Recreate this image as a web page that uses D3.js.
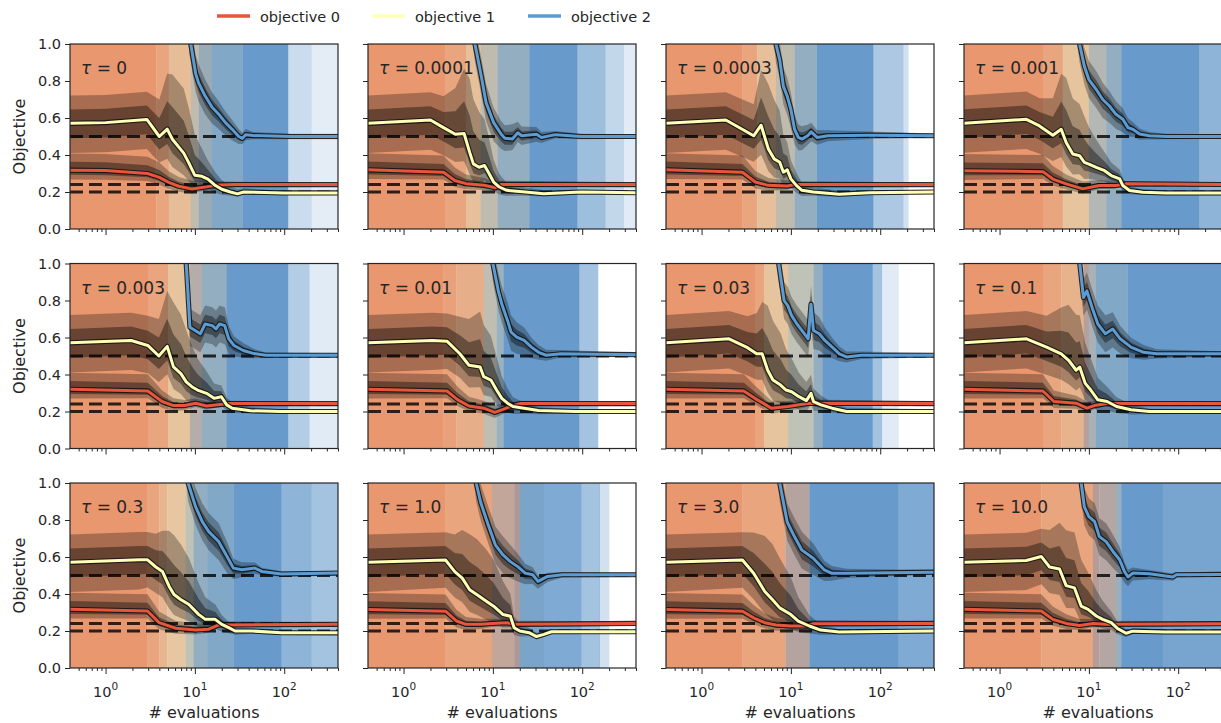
<!DOCTYPE html>
<html>
<head>
<meta charset="utf-8">
<script src="https://cdn.jsdelivr.net/npm/d3@7"></script>
<style>
  body { margin: 0; background: #fff; }
  text { font-family: "DejaVu Sans", sans-serif; fill: #262626; }
</style>
</head>
<body>
<svg id="chart" width="1221" height="723"></svg>
<script>
// tau of each panel (row by row)
const taus = ["0", "0.0001", "0.0003", "0.001", "0.003", "0.01", "0.03", "0.1", "0.3", "1.0", "3.0", "10.0"];
const objectives = ["objective 0", "objective 1", "objective 2"];
const targets = [0.5, 0.24, 0.2];
const yTicks = [0, 0.2, 0.4, 0.6, 0.8, 1.0];
const xMajor = [1, 10, 100];

// background: [x from, share obj0, share obj1, share obj2]  (share sum = coverage)
const bgBands = [
  [[0.4,1,0,0],[3.7,.8,.2,0],[5.1,.45,.55,0],[9,.2,.5,.3],[11,.15,.25,.6],[15.5,0,.2,.8],[34,0,0,1],[110,0,0,.35],[200,0,0,.18]],
  [[0.4,1,0,0],[2.95,.8,.2,0],[5,.4,.6,0],[7.3,.2,.5,.3],[11.3,.05,.3,.65],[25.5,0,0,1],[88,0,0,.65],[180,0,0,.4],[290,0,0,.2]],
  [[0.4,1,0,0],[2.87,.8,.2,0],[4.2,.4,.6,0],[6.8,.2,.5,.3],[11,.05,.3,.65],[19.6,0,0,1],[83,0,0,.55],[180,0,0,.3],[206,0,0,0]],
  [[0.4,1,0,0],[3.06,.8,.2,0],[5.1,.35,.65,0],[10,.15,.45,.4],[15.6,.05,.3,.65],[23,0,0,1],[170,0,0,.75]],
  [[0.4,1,0,0],[2.97,.8,.2,0],[5,.35,.65,0],[8.8,.3,.3,.4],[12,.05,.3,.65],[22.7,0,0,1],[110,0,0,.5],[190,0,0,.2]],
  [[0.4,1,0,0],[2.8,.85,.15,0],[3.9,.65,.35,0],[7.9,.15,.55,.3],[11,.05,.35,.6],[13.2,0,0,1],[92,0,0,.6],[150,0,0,0]],
  [[0.4,1,0,0],[3.96,.8,.2,0],[5,.35,.65,0],[9.3,.1,.6,.3],[18,.05,.3,.65],[22.7,0,0,1],[82,0,0,.6],[104,0,0,.2],[160,0,0,0]],
  [[0.4,1,0,0],[3.06,.8,.2,0],[4.9,.6,.4,0],[8.7,.5,.1,.4],[10,.15,.35,.5],[12,0,.2,.8],[27,0,0,1]],
  [[0.4,1,0,0],[2.95,.8,.2,0],[4,.55,.45,0],[4.9,.3,.7,0],[7.9,.1,.6,.3],[9.7,.05,.3,.65],[13.7,0,.2,.8],[27,0,0,1],[93,0,0,.75],[200,0,0,.6]],
  [[0.4,1,0,0],[2.95,.8,.2,0],[9.75,.5,.2,.3],[17.3,.55,0,.45],[20,0,.15,.85],[37,0,0,.85],[97,0,0,.6],[157,0,0,.3],[200,0,0,0]],
  [[0.4,1,0,0],[2.87,.8,.2,0],[8.7,.45,.15,.4],[16.1,0,0,1],[160,0,0,.85]],
  [[0.4,1,0,0],[2.93,.8,.2,0],[11.1,.55,.05,.4],[13.1,.4,.2,.4],[20,.1,.3,.6],[23,0,0,1],[67,0,0,.9]]
];

// curves: [evaluations, median, spread below, spread above]
const obj0 = [
  [[0.4,.318,.05,.09],[1,.316,.05,.09],[2.95,.30,.04,.09],[4,.279,.04,.08],[5.1,.252,.035,.06],[6.6,.231,.03,.05],[9.3,.216,.025,.045],[11,.222,.02,.035],[14,.229,.02,.03],[18.5,.238,.015,.02],[28,.24,.012,.015],[400,.24,.012,.012]],
  [[0.4,.32,.05,.09],[2.8,.307,.04,.09],[3.75,.262,.035,.07],[5,.245,.03,.05],[8,.236,.025,.04],[10.7,.223,.02,.03],[12.4,.241,.015,.02],[400,.24,.012,.012]],
  [[0.4,.32,.05,.09],[2.87,.307,.04,.09],[4,.254,.035,.06],[5.6,.236,.03,.04],[9.1,.232,.02,.03],[11,.24,.015,.02],[400,.24,.012,.012]],
  [[0.4,.315,.05,.09],[3.06,.31,.04,.09],[3.95,.27,.035,.07],[5.57,.244,.03,.05],[8.54,.217,.025,.04],[13.1,.235,.02,.03],[20,.235,.015,.02],[26,.244,.012,.015],[400,.24,.012,.012]],
  [[0.4,.32,.05,.09],[2.97,.311,.04,.09],[4.3,.254,.035,.06],[5.76,.232,.03,.04],[7.66,.232,.025,.03],[10.2,.245,.02,.025],[13.5,.23,.02,.025],[17.9,.236,.015,.02],[23.9,.243,.012,.015],[400,.243,.012,.012]],
  [[0.4,.32,.05,.09],[3.06,.311,.04,.09],[4.06,.263,.035,.07],[5.4,.23,.03,.05],[7.9,.218,.03,.04],[10.5,.195,.03,.04],[12.6,.209,.025,.03],[16.8,.232,.02,.02],[20.4,.243,.012,.015],[400,.243,.012,.012]],
  [[0.4,.32,.05,.09],[2.97,.311,.04,.09],[3.96,.271,.035,.07],[5.24,.236,.03,.05],[6.05,.218,.03,.04],[9.26,.227,.025,.03],[13.5,.239,.02,.025],[16.4,.245,.015,.02],[400,.243,.012,.012]],
  [[0.4,.32,.05,.09],[3.06,.311,.04,.09],[4.06,.254,.035,.06],[7.2,.245,.03,.04],[9.5,.218,.025,.035],[11.5,.232,.02,.025],[16,.243,.012,.015],[400,.243,.012,.012]],
  [[0.4,.317,.05,.09],[2.95,.308,.04,.09],[3.98,.245,.035,.06],[6.1,.215,.03,.04],[10.2,.206,.025,.035],[14.3,.21,.02,.03],[18.5,.233,.015,.02],[400,.236,.012,.012]],
  [[0.4,.316,.05,.09],[2.95,.307,.04,.09],[3.93,.254,.035,.06],[5,.236,.03,.04],[7.33,.236,.025,.03],[9.75,.241,.02,.025],[14.3,.245,.02,.02],[17.3,.236,.015,.02],[400,.241,.012,.012]],
  [[0.4,.316,.05,.09],[2.87,.307,.04,.09],[3.83,.271,.035,.07],[5.1,.245,.03,.05],[6.8,.232,.03,.04],[10,.227,.025,.03],[14.7,.227,.02,.025],[17.8,.239,.015,.02],[400,.241,.012,.012]],
  [[0.4,.317,.05,.09],[2.93,.308,.04,.09],[3.95,.263,.035,.07],[5.57,.241,.03,.05],[7.86,.23,.025,.035],[11.1,.24,.02,.025],[15.6,.236,.015,.02],[400,.24,.012,.012]]
];

const obj1 = [
  [[0.4,.571,.16,.15],[1,.575,.16,.15],[2.9,.592,.16,.15],[4,.50,.14,.2],[4.9,.54,.16,.3],[5.6,.485,.15,.35],[7.5,.41,.12,.35],[8.5,.36,.1,.3],[10,.29,.07,.22],[12,.285,.06,.15],[14,.27,.05,.1],[17,.235,.04,.07],[20,.215,.03,.05],[25,.2,.02,.03],[30,.19,.015,.025],[35,.2,.015,.02],[100,.195,.012,.012],[400,.195,.012,.012]],
  [[0.4,.571,.16,.15],[2,.589,.16,.15],[2.8,.548,.15,.17],[3.8,.512,.15,.25],[4.76,.516,.15,.35],[5.5,.414,.12,.4],[6.05,.352,.1,.35],[7,.334,.09,.3],[8.06,.343,.08,.25],[8.9,.307,.07,.2],[10.2,.254,.05,.12],[11.8,.227,.04,.07],[14.3,.209,.03,.04],[23,.2,.02,.025],[37,.191,.015,.02],[97,.2,.012,.012],[400,.196,.012,.012]],
  [[0.4,.571,.16,.15],[1.87,.589,.16,.15],[3.83,.504,.14,.17],[4.64,.561,.16,.3],[5.6,.432,.12,.35],[6.5,.379,.1,.32],[7.5,.361,.09,.28],[8.25,.307,.07,.2],[9.1,.32,.07,.15],[10,.271,.05,.1],[11.5,.236,.04,.07],[13.3,.209,.03,.04],[17.8,.2,.02,.025],[34.7,.188,.015,.02],[75,.196,.012,.015],[400,.2,.012,.012]],
  [[0.4,.572,.16,.15],[2,.593,.16,.15],[2.8,.557,.15,.15],[3.95,.507,.14,.2],[4.9,.539,.15,.3],[5.57,.468,.13,.35],[6.6,.405,.11,.3],[7.86,.396,.1,.28],[8.9,.36,.09,.25],[10,.351,.08,.2],[12.1,.333,.07,.15],[15,.315,.06,.1],[17.8,.289,.05,.07],[22.1,.271,.04,.05],[24,.235,.03,.04],[28.5,.208,.02,.025],[40,.199,.015,.015],[73,.195,.012,.012],[400,.195,.012,.012]],
  [[0.4,.571,.16,.15],[1.94,.584,.16,.15],[2.97,.557,.15,.16],[3.95,.50,.14,.2],[4.9,.552,.15,.3],[5.76,.441,.12,.35],[6.97,.405,.11,.32],[8,.36,.1,.28],[9.25,.334,.09,.22],[10.7,.316,.08,.17],[13.5,.298,.07,.12],[16.4,.271,.05,.08],[19.8,.28,.05,.06],[22.7,.236,.035,.04],[26.2,.218,.025,.03],[42,.204,.015,.02],[90,.2,.012,.012],[400,.2,.012,.012]],
  [[0.4,.571,.16,.15],[2.1,.584,.16,.15],[3.06,.58,.15,.15],[4.27,.512,.13,.2],[5.4,.45,.12,.25],[7.2,.441,.11,.3],[7.9,.388,.1,.28],[9.5,.37,.09,.24],[11,.316,.08,.18],[12.6,.271,.06,.12],[14.6,.245,.05,.08],[16.8,.227,.04,.05],[22.4,.218,.03,.03],[32.5,.205,.02,.02],[84,.2,.012,.012],[400,.2,.012,.012]],
  [[0.4,.571,.16,.15],[2.03,.593,.16,.15],[3.27,.545,.15,.17],[4.14,.512,.14,.22],[4.77,.512,.14,.28],[5.5,.423,.12,.35],[6.3,.37,.11,.32],[7.67,.343,.1,.28],[8.84,.316,.09,.22],[10.2,.307,.08,.18],[12.3,.28,.07,.13],[14.9,.259,.06,.1],[16.8,.298,.06,.1],[17.9,.254,.05,.07],[21.7,.236,.035,.05],[28.9,.218,.025,.03],[42,.2,.015,.02],[400,.2,.012,.012]],
  [[0.4,.571,.16,.15],[2,.593,.16,.15],[3.36,.548,.15,.17],[4.9,.512,.14,.25],[5.93,.477,.13,.3],[7.2,.423,.11,.3],[7.9,.44,.11,.28],[9.1,.352,.09,.22],[10.5,.316,.08,.17],[12.6,.263,.06,.12],[16,.254,.05,.08],[20.4,.227,.035,.05],[29.6,.209,.025,.03],[47.6,.2,.015,.015],[400,.2,.012,.012]],
  [[0.4,.571,.16,.15],[2.39,.585,.16,.15],[2.95,.585,.15,.15],[3.66,.546,.14,.18],[4.33,.522,.14,.22],[5.14,.442,.12,.3],[5.84,.397,.11,.32],[6.93,.37,.1,.3],[8.58,.343,.09,.25],[11,.29,.07,.17],[13.1,.263,.06,.12],[16.9,.263,.05,.08],[20,.236,.04,.05],[23.9,.218,.03,.03],[28.2,.2,.02,.02],[43.3,.2,.015,.015],[93,.191,.012,.012],[400,.19,.012,.012]],
  [[0.4,.571,.16,.15],[2.95,.584,.15,.15],[3.74,.521,.14,.2],[4.54,.486,.13,.26],[5.5,.423,.12,.3],[6.65,.396,.11,.3],[8.44,.361,.1,.28],[10.2,.334,.09,.25],[13,.289,.07,.18],[15.7,.28,.06,.12],[17.3,.218,.04,.06],[20,.2,.03,.04],[25.4,.191,.02,.025],[30.8,.17,.015,.02],[37.3,.182,.015,.015],[45,.196,.012,.012],[400,.196,.012,.012]],
  [[0.4,.571,.16,.15],[2.87,.584,.15,.15],[3.83,.512,.14,.22],[5.1,.414,.12,.3],[6.2,.37,.11,.3],[7.5,.325,.1,.27],[10,.289,.08,.2],[12.1,.254,.06,.13],[16.1,.227,.04,.06],[21.5,.205,.025,.03],[34.7,.195,.015,.015],[400,.2,.012,.012]],
  [[0.4,.571,.16,.15],[1.99,.581,.16,.15],[2.93,.603,.15,.15],[3.63,.546,.14,.2],[4.69,.535,.14,.25],[5.57,.445,.12,.3],[6.9,.433,.11,.3],[8.2,.335,.09,.25],[9.8,.317,.08,.2],[12.1,.281,.06,.14],[14.3,.263,.05,.1],[17.8,.245,.04,.06],[21,.213,.03,.035],[26.1,.188,.02,.02],[31,.199,.015,.015],[73,.195,.012,.012],[400,.195,.012,.012]]
];

const obj2 = [
  [[8.6,1.05,.1,.1],[9,1.0,.1,.1],[10.2,.84,.1,.1],[11,.79,.1,.1],[13,.72,.1,.09],[15.5,.66,.09,.08],[18.5,.62,.08,.07],[22,.575,.07,.06],[26,.54,.06,.05],[31,.5,.04,.04],[34,.49,.03,.03],[37,.51,.03,.03],[45,.505,.02,.02],[120,.5,.015,.015],[400,.5,.015,.015]],
  [[6,1.08,.1,.1],[6.3,1.0,.1,.1],[7.3,.843,.1,.1],[8.4,.682,.1,.1],[10.2,.575,.1,.08],[12.4,.512,.08,.07],[13.6,.491,.07,.07],[16.5,.486,.06,.08],[19,.52,.05,.06],[21,.504,.05,.05],[30.8,.512,.04,.04],[35,.495,.03,.03],[50,.51,.02,.02],[97,.5,.015,.015],[400,.5,.012,.012]],
  [[6.5,1.08,.1,.1],[6.8,1.0,.1,.1],[7.5,.914,.1,.1],[8.25,.771,.1,.1],[9.1,.718,.1,.1],[10,.646,.1,.09],[11,.539,.08,.08],[12.1,.495,.07,.07],[13.3,.486,.06,.07],[15.4,.504,.05,.06],[16.9,.525,.05,.05],[19.6,.495,.04,.04],[26,.504,.03,.03],[75,.507,.02,.02],[400,.504,.012,.012]],
  [[7.5,1.08,.1,.1],[7.86,1.0,.1,.1],[8.9,.88,.1,.1],[10,.808,.1,.1],[12.1,.754,.1,.1],[14.3,.70,.1,.09],[17,.665,.09,.08],[20.1,.62,.08,.07],[24,.593,.07,.06],[27.4,.548,.05,.05],[31,.539,.04,.04],[37,.513,.03,.03],[47.6,.504,.02,.02],[73,.5,.015,.015],[400,.5,.012,.012]],
  [[7.7,1.08,.1,.1],[8,1.0,.1,.1],[8.8,.655,.1,.1],[11.5,.62,.1,.1],[13,.673,.1,.1],[15.7,.664,.1,.1],[17.2,.646,.1,.1],[18.9,.673,.1,.1],[21.6,.664,.1,.1],[23.9,.593,.08,.07],[27.4,.557,.06,.05],[34.8,.53,.04,.04],[46,.513,.025,.025],[61.7,.504,.015,.015],[400,.504,.012,.012]],
  [[9.6,1.08,.1,.1],[10,1.0,.1,.1],[11.5,.852,.1,.1],[12.6,.78,.1,.1],[14.6,.691,.1,.1],[16,.629,.1,.09],[18.5,.602,.09,.08],[22.4,.584,.08,.07],[27,.548,.06,.05],[32.5,.52,.04,.04],[39.4,.504,.03,.03],[57.6,.512,.02,.02],[400,.507,.012,.012]],
  [[7,1.08,.1,.1],[7.3,1.0,.1,.1],[8.4,.8,.1,.1],[9.26,.771,.1,.1],[10.2,.718,.1,.1],[11.7,.673,.1,.1],[14.2,.62,.1,.1],[15.6,.593,.1,.1],[16.8,.78,.12,.1],[17.9,.638,.1,.1],[20.8,.62,.09,.09],[24,.584,.08,.07],[29,.548,.06,.05],[34.9,.512,.04,.04],[42,.495,.03,.03],[61.7,.504,.02,.02],[400,.504,.012,.012]],
  [[7.6,1.08,.1,.1],[7.9,1.0,.1,.1],[8.7,.816,.1,.1],[9.5,.852,.1,.1],[11,.754,.1,.1],[12.6,.673,.1,.1],[15.3,.62,.1,.1],[18.5,.646,.1,.09],[22.4,.593,.08,.07],[29.6,.548,.06,.05],[41,.52,.04,.04],[57.6,.512,.025,.025],[400,.512,.012,.012]],
  [[8.1,1.08,.1,.1],[8.4,1.0,.1,.1],[10.2,.871,.1,.1],[12.1,.791,.1,.1],[14.3,.737,.1,.1],[18.5,.683,.1,.1],[22.9,.603,.09,.08],[27,.54,.06,.05],[33.5,.531,.04,.04],[47,.54,.03,.03],[56,.522,.02,.02],[93,.508,.015,.015],[400,.513,.012,.012]],
  [[6.2,1.08,.1,.1],[6.5,1.0,.1,.1],[7.3,.896,.1,.1],[8.9,.771,.1,.1],[10.7,.664,.1,.1],[13,.611,.1,.1],[15.7,.575,.09,.09],[19,.548,.08,.07],[23,.513,.06,.05],[27.9,.504,.05,.04],[32,.468,.04,.03],[41,.495,.03,.02],[60,.504,.015,.015],[400,.504,.012,.012]],
  [[7.2,1.08,.1,.1],[7.5,1.0,.1,.1],[9.1,.789,.1,.1],[11,.709,.1,.1],[13.3,.637,.1,.1],[17.8,.593,.09,.08],[23.7,.53,.06,.05],[28.8,.512,.04,.04],[42,.512,.025,.025],[400,.518,.012,.012]],
  [[7.9,1.08,.1,.1],[8.2,1.0,.1,.1],[8.9,.871,.1,.1],[10,.818,.1,.1],[11.6,.791,.1,.1],[13.1,.71,.1,.1],[15.6,.683,.1,.1],[18.6,.63,.09,.09],[22.1,.585,.08,.07],[25,.522,.06,.05],[27.4,.492,.05,.04],[31,.513,.04,.03],[47.6,.51,.03,.02],[87,.492,.02,.02],[95,.504,.015,.015],[400,.506,.012,.012]]
];

// 布局
const W = 268, H = 185;
const colLeft = [70, 368, 666, 964];
const rowTop = [44, 263.5, 483];
const lineColors = ["#e8553a", "#ffffb5", "#5d9cd3"];
const bgBase = [[233, 151, 111], [228, 220, 184], [104, 155, 203]];

const svg = d3.select("#chart");
const x = d3.scaleLog().domain([0.4, 400]).range([0, W]);
const y = d3.scaleLinear().domain([0, 1]).range([H, 0]);

const minorTicks = [];
[0.1, 1, 10, 100].forEach(d => {
  for (let k = 2; k <= 9; k++) {
    const v = k * d;
    if (v > 0.4 && v <= 400) minorTicks.push(v);
  }
});

function bgColor(b) {
  const s = b[1] + b[2] + b[3];
  const c = [0, 1, 2].map(i => (b[1] * bgBase[0][i] + b[2] * bgBase[1][i] + b[3] * bgBase[2][i]) / s);
  return { fill: d3.rgb(c[0], c[1], c[2]).toString(), op: Math.min(1, s) };
}

const band = f => d3.area()
  .x(d => x(d[0]))
  .y0(d => y(d[1] - d[2] * f))
  .y1(d => y(d[1] + d[3] * f));
const line = d3.line().x(d => x(d[0])).y(d => y(d[1]));

taus.forEach((tau, i) => {
  const r = Math.floor(i / 4), c = i % 4;
  const g = svg.append("g").attr("transform", `translate(${colLeft[c]},${rowTop[r]})`);

  g.append("clipPath").attr("id", "clip" + i)
    .append("rect").attr("width", W).attr("height", H);
  const plot = g.append("g").attr("clip-path", `url(#clip${i})`);

  // 背景
  const bands = bgBands[i];
  bands.forEach((b, k) => {
    const x1 = k + 1 < bands.length ? bands[k + 1][0] : 400;
    if (b[1] + b[2] + b[3] === 0) return;
    const col = bgColor(b);
    plot.append("rect")
      .attr("x", x(b[0])).attr("y", 0)
      .attr("width", x(x1) - x(b[0]) + 0.3).attr("height", H)
      .attr("fill", col.fill).attr("fill-opacity", col.op);
  });

  const series = [obj0[i], obj1[i], obj2[i]];

  // 分布带
  series.forEach(s => {
    plot.append("path").attr("d", band(1)(s)).attr("fill", "#000").attr("fill-opacity", 0.28);
    plot.append("path").attr("d", band(0.5)(s)).attr("fill", "#000").attr("fill-opacity", 0.38);
  });

  // 目标值
  targets.forEach(t => {
    plot.append("line")
      .attr("x1", 0).attr("x2", W).attr("y1", y(t)).attr("y2", y(t))
      .attr("stroke", "#000").attr("stroke-opacity", 0.8)
      .attr("stroke-width", 3).attr("stroke-dasharray", "13,6");
  });

  // 中位线
  series.forEach((s, k) => {
    plot.append("path").attr("d", line(s)).attr("fill", "none")
      .attr("stroke", "#111").attr("stroke-opacity", 0.85).attr("stroke-width", 5.2)
      .attr("stroke-linejoin", "round");
    plot.append("path").attr("d", line(s)).attr("fill", "none")
      .attr("stroke", lineColors[k]).attr("stroke-width", 3)
      .attr("stroke-linejoin", "round");
  });

  // 坐标轴
  const ya = g.append("g").call(d3.axisLeft(y).tickValues(yTicks).tickSize(5).tickPadding(4)
    .tickFormat(c === 0 ? d3.format(".1f") : () => ""));
  const xa = g.append("g").attr("transform", `translate(0,${H})`)
    .call(d3.axisBottom(x).tickValues(xMajor).tickSize(6).tickFormat(() => ""));
  const xm = g.append("g").attr("transform", `translate(0,${H})`)
    .call(d3.axisBottom(x).tickValues(minorTicks).tickSize(3).tickFormat(() => ""));
  [ya, xa, xm].forEach(a => {
    a.select(".domain").remove();
    a.selectAll(".tick line").attr("stroke", "#262626").attr("stroke-width", 1);
    a.selectAll("text").attr("font-size", 14.5).attr("fill", "#262626")
      .attr("font-family", "DejaVu Sans, sans-serif");
  });

  if (r === 2) {
    xMajor.forEach((v, k) => {
      const t = g.append("text").attr("x", x(v)).attr("y", H + 29)
        .attr("text-anchor", "middle").attr("font-size", 14.5);
      t.append("tspan").text("10");
      t.append("tspan").attr("dy", -7).attr("font-size", 10.5).text(k);
    });
    g.append("text").attr("x", W / 2).attr("y", H + 50)
      .attr("text-anchor", "middle").attr("font-size", 16).text("# evaluations");
  }
  if (c === 0) {
    g.append("text").attr("transform", `translate(-45,${H / 2}) rotate(-90)`)
      .attr("text-anchor", "middle").attr("font-size", 16).text("Objective");
  }

  g.append("rect").attr("width", W).attr("height", H)
    .attr("fill", "none").attr("stroke", "#262626").attr("stroke-width", 1.2);

  const lab = g.append("text").attr("x", 11).attr("y", 30).attr("font-size", 17);
  lab.append("tspan").attr("font-style", "italic").text("τ");
  lab.append("tspan").text(" = " + tau);
});

// 图例
const legX = [217, 372, 528];
objectives.forEach((name, k) => {
  svg.append("line").attr("x1", legX[k]).attr("x2", legX[k] + 33)
    .attr("y1", 16).attr("y2", 16)
    .attr("stroke", lineColors[k]).attr("stroke-width", 3.5);
  svg.append("text").attr("x", legX[k] + 43).attr("y", 21.5)
    .attr("font-size", 14.5).text(name);
});
</script>
</body>
</html>
